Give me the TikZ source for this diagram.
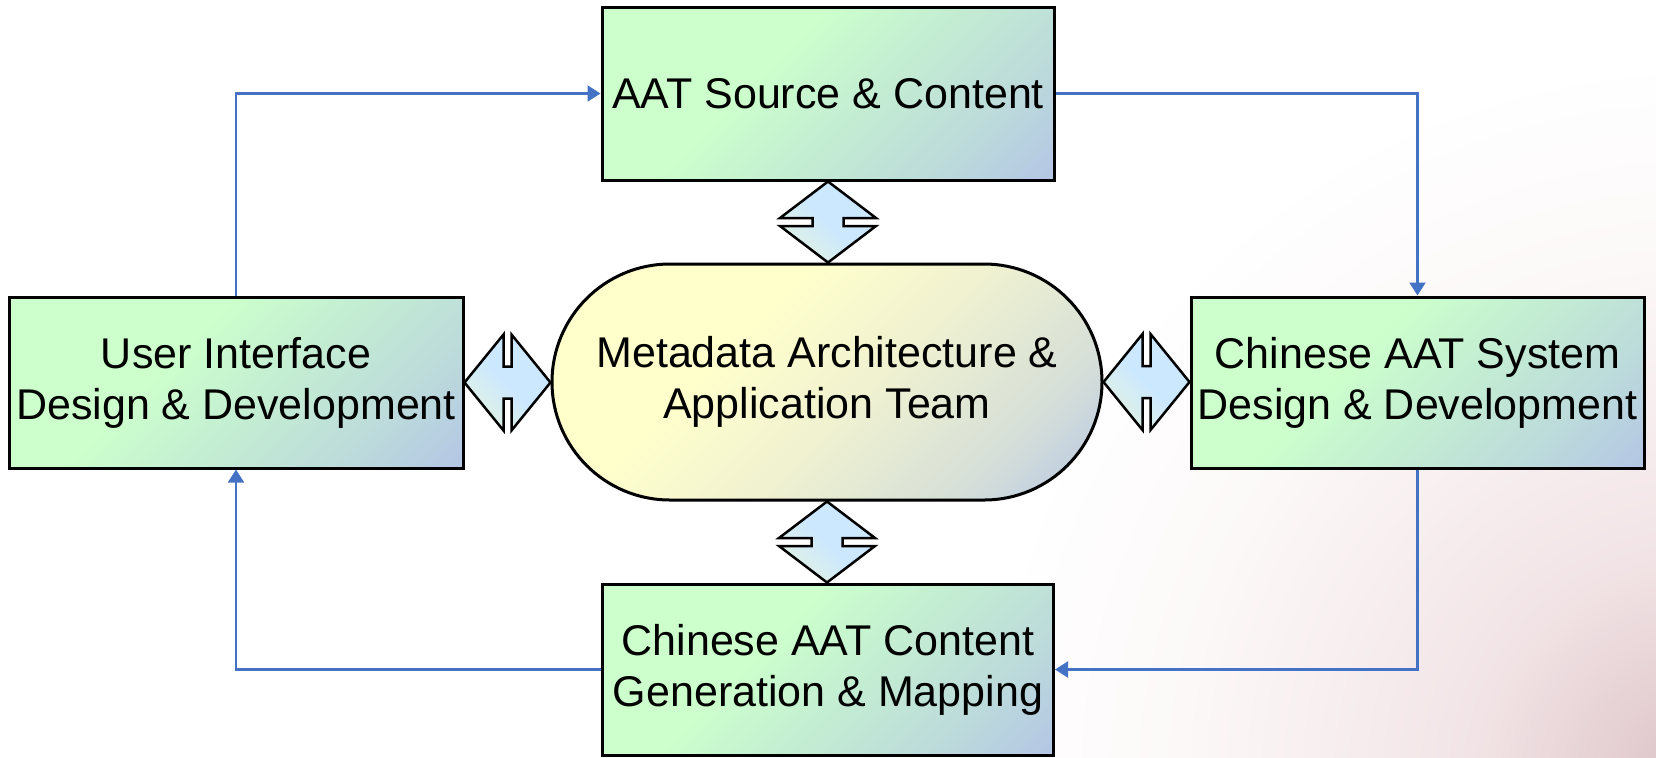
\documentclass[tikz,border=0pt]{standalone}
\usepackage{fontspec}
\setmainfont{Liberation Sans}
\usetikzlibrary{arrows.meta,shapes.misc,calc}
\definecolor{gA}{HTML}{CCFFCC}
\definecolor{gM}{HTML}{C3ECD3}
\definecolor{gN}{HTML}{BCDADB}
\definecolor{gB}{HTML}{B3C5E6}
\definecolor{yA}{HTML}{FFFFCC}
\definecolor{yM}{HTML}{F0F2D0}
\definecolor{yN}{HTML}{D6DFD8}
\definecolor{cA}{HTML}{CCE8FF}
\definecolor{cM}{HTML}{D8EEEE}
\definecolor{cB}{HTML}{ECF6D2}
\definecolor{lnk}{HTML}{4472C4}
\definecolor{pkA}{HTML}{FCF8F8}
\definecolor{pkM}{HTML}{F2E4E6}
\definecolor{pk}{HTML}{DCC2C6}
\pgfdeclarehorizontalshading{boxsh}{100bp}{color(0bp)=(gA); color(15bp)=(gA); color(40bp)=(gA); color(56bp)=(gM); color(72bp)=(gN); color(86bp)=(gB); color(100bp)=(gB)}
\pgfdeclarehorizontalshading{stadsh}{100bp}{color(0bp)=(yA); color(15bp)=(yA); color(38bp)=(yA); color(54bp)=(yM); color(72bp)=(yN); color(86bp)=(gB); color(100bp)=(gB)}
\pgfdeclarehorizontalshading{dblsh}{100bp}{color(0bp)=(cB); color(15bp)=(cB); color(35bp)=(cM); color(50bp)=(cA); color(100bp)=(cA)}
\pgfdeclareradialshading{bgr}{\pgfpoint{0bp}{0bp}}{color(0bp)=(pk); color(8bp)=(pkM); color(18bp)=(pkA); color(25bp)=(white); color(50bp)=(white)}
\begin{document}
\begin{tikzpicture}[x=0.5pt,y=-0.5pt,
  txt/.style={font=\fontsize{21.5pt}{25.5pt}\selectfont, align=center, inner sep=1pt},
  box/.style={txt, rectangle, draw=black, line width=1.5pt, shade, shading=boxsh, shading angle=-45},
  stad/.style={txt, rounded rectangle, draw=black, line width=1.5pt, shade, shading=stadsh, shading angle=-45, minimum width=277pt, minimum height=118pt},
  link/.style={draw=lnk, line width=1.1pt, -{Triangle[length=6.5pt,width=8pt]}},
  dbl/.style={draw=black, line width=1.25pt, line join=miter, shade, shading=dblsh, shading angle=45}]
\useasboundingbox (0,0) rectangle (1656,757);
\fill[white] (0,0) rectangle (1656,757);
\begin{scope}
\clip (0,0) rectangle (1656,757);
\shade[shading=bgr] (1700,780) circle (720);
\end{scope}

\node[box, minimum width=226pt, minimum height=86.5pt] (T) at (828,93.5) {AAT Source \& Content};
\node[box, minimum width=227pt, minimum height=85.5pt] (L) at (236,382.5) {User Interface\\Design \& Development};
\node[box, minimum width=226.5pt, minimum height=85.5pt] (R) at (1417.5,382.5) {Chinese AAT System\\Design \& Development};
\node[box, minimum width=225.5pt, minimum height=85.5pt] (B) at (828,669.5) {Chinese AAT Content\\Generation \& Mapping};
\node[stad] (M) at (827,382) {Metadata Architecture \&\\Application Team};

\draw[link] (L.north) |- (T.west);
\draw[link] (T.east) -| (R.north);
\draw[link] (R.south) |- (B.east);
\draw[link] (B.west) -| (L.south);

% vertical double arrows
\foreach \a/\b in {T.south/M.north, M.south/B.north}{
  \draw[dbl] let \p1=(\a), \p2=(\b), \n1={(\y1-\y2-4pt)/2} in
    (\x1,\y1) -- (\x1+24pt,\y1-\n1) -- (\x1+7.75pt,\y1-\n1) -- (\x1+7.75pt,\y2+\n1)
    -- (\x1+24pt,\y2+\n1) -- (\x1,\y2) -- (\x1-24pt,\y2+\n1) -- (\x1-7.75pt,\y2+\n1)
    -- (\x1-7.75pt,\y1-\n1) -- (\x1-24pt,\y1-\n1) -- cycle;
}
% horizontal double arrows
\foreach \a/\b in {L.east/M.west, M.east/R.west}{
  \draw[dbl] let \p1=(\a), \p2=(\b), \n1={(\x2-\x1-4pt)/2} in
    (\x1,\y1) -- (\x1+\n1,\y1+24pt) -- (\x1+\n1,\y1+8pt) -- (\x2-\n1,\y1+8pt)
    -- (\x2-\n1,\y1+24pt) -- (\x2,\y1) -- (\x2-\n1,\y1-24pt) -- (\x2-\n1,\y1-8pt)
    -- (\x1+\n1,\y1-8pt) -- (\x1+\n1,\y1-24pt) -- cycle;
}
\end{tikzpicture}
\end{document}
